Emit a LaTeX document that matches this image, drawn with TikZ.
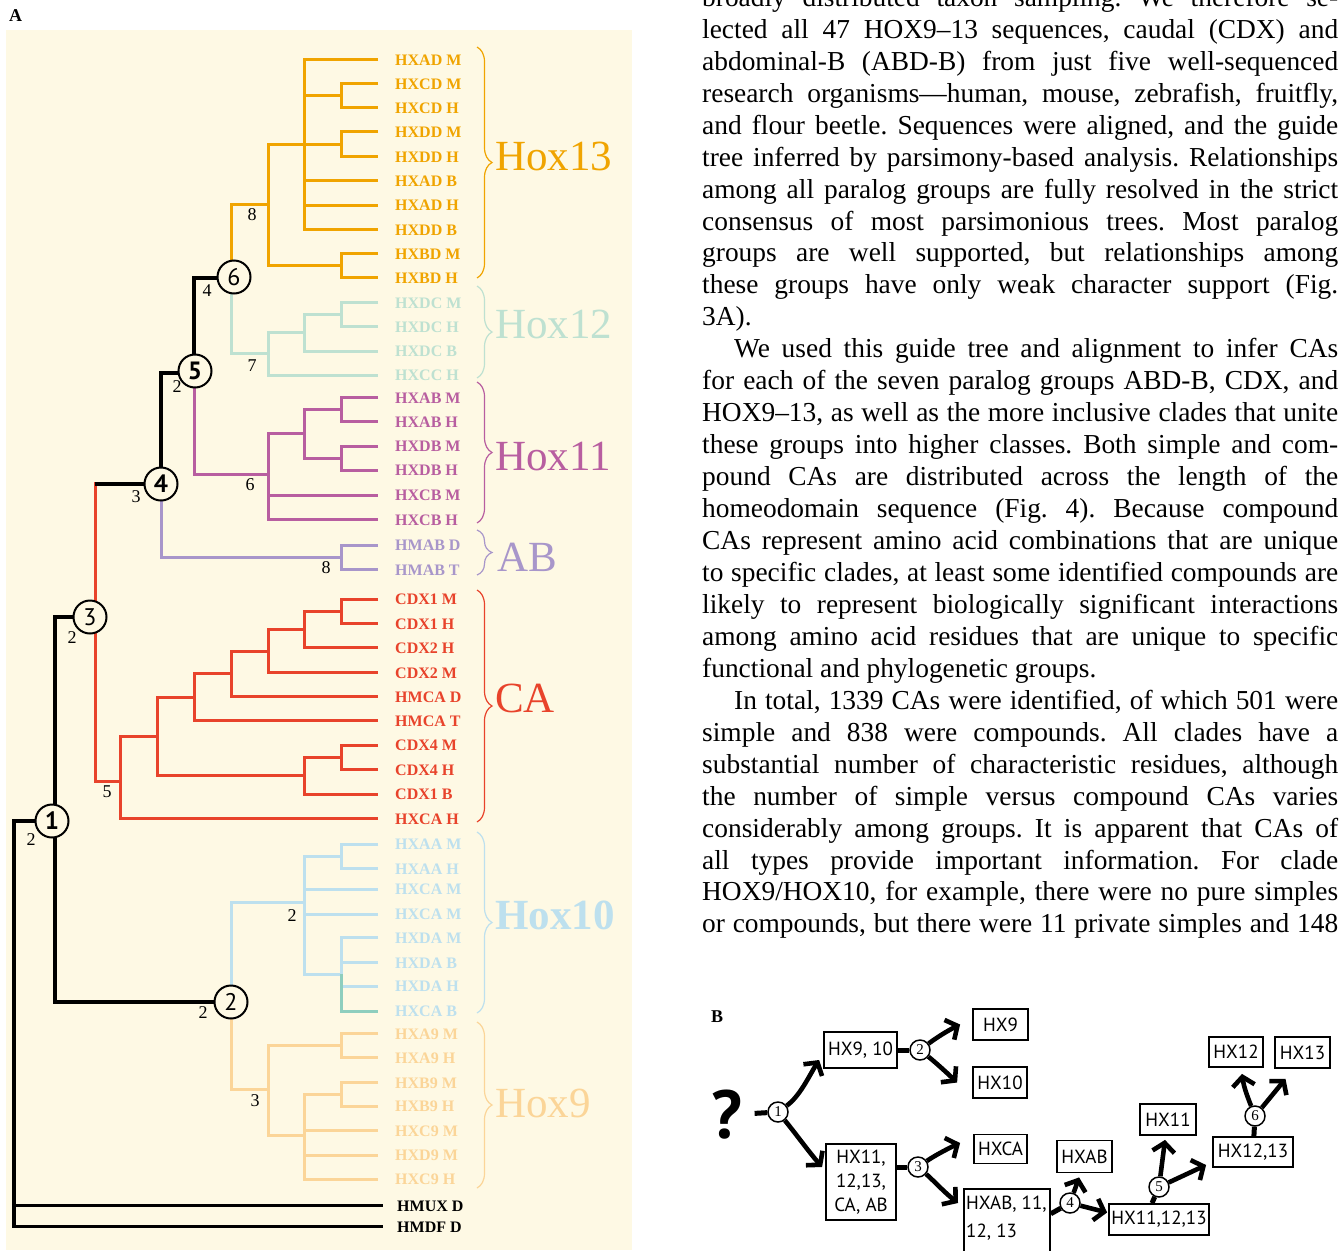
\documentclass[tikz,border=0pt]{standalone}
\usepackage{fontspec}
\setmainfont{Liberation Serif}
\newfontfamily\sansf{PT Sans}
\usetikzlibrary{arrows.meta,decorations.pathreplacing,calc}
\definecolor{bgc}{HTML}{FEF9E4}
\definecolor{cXIII}{HTML}{F0A400}
\definecolor{cXII}{HTML}{BEE1D1}
\definecolor{cXI}{HTML}{B85EA0}
\definecolor{cAB}{HTML}{A896CA}
\definecolor{cCA}{HTML}{E8432B}
\definecolor{cX}{HTML}{BDE0EE}
\definecolor{cXg}{HTML}{8ECEBE}
\definecolor{cIX}{HTML}{FBD598}
\pgfdeclarelayer{back}
\pgfdeclarelayer{lines}
\pgfsetlayers{back,lines,main}
\frenchspacing
\newcommand\jline[3]{\node[jl] (#1) at (702,{38.3+31.95*(#2-1)}) {\makebox[636pt][s]{#3}};}
\begin{document}
\begin{tikzpicture}[x=1pt,y=-1pt,
  br/.style={line width=3pt},
  blk/.style={line width=3.4pt, black},
  lf/.style={anchor=base west, inner sep=0pt, font=\fontsize{16}{16}\selectfont\bfseries},
  grp/.style={anchor=base west, inner sep=0pt, font=\fontsize{43}{43}\selectfont},
  supn/.style={inner sep=0pt, font=\fontsize{18}{18}\selectfont},
  cn/.style={circle, draw=black, line width=2pt, fill=bgc, minimum size=33pt, inner sep=0pt, font=\sansf\fontsize{24}{24}\selectfont},
  cnb/.style={cn, font=\sansf\bfseries\fontsize{25}{25}\selectfont},
  brc/.style={line width=1.2pt, decorate, decoration={brace, amplitude=15pt}},
  jl/.style={anchor=base west, inner sep=0pt, font=\fontsize{27.4}{27.4}\selectfont},
  bx/.style={draw=black, line width=1.8pt, fill=white, inner sep=0pt, font=\sansf\fontsize{19}{24}\selectfont},
  bc/.style={circle, draw=black, line width=1.5pt, fill=white, minimum size=20pt, inner sep=0pt, font=\fontsize{15}{15}\selectfont},
  barr/.style={line width=4.6pt, -{Straight Barb[length=9pt,width=22pt]}},
  stub/.style={line width=5pt}
]
\clip (0,0) rectangle (1343,1250);
\begin{pgfonlayer}{back}
\fill[white] (0,0) rectangle (1343,1250);
\fill[bgc] (6,30) rectangle (632,1250);
\end{pgfonlayer}
\node[anchor=base west, inner sep=0pt, font=\fontsize{18}{18}\selectfont\bfseries] (lblA) at (9,21) {A};

% ---- circles of panel A
\node[cnb] (c1) at (52,821) {1};
\node[cn]  (c2) at (231,1002) {2};
\node[cn]  (c3) at (90,617) {3};
\node[cnb] (c4) at (161,484) {4};
\node[cnb] (c5) at (195,371) {5};
\node[cn]  (c6) at (234,277) {6};

\begin{pgfonlayer}{lines}
% Hox13
\begin{scope}[br, cXIII]
\draw (378,83.3) -- (341,83.3) -- (341,107.7) -- (378,107.7);
\draw (378,131.7) -- (341,131.7) -- (341,156.7) -- (378,156.7);
\draw (378,253.3) -- (341,253.3) -- (341,277.7) -- (378,277.7);
\draw (378,59.3) -- (304,59.3) -- (304,229.3) -- (378,229.3);
\draw (304,95.5) -- (341,95.5);
\draw (304,180.7) -- (378,180.7);
\draw (304,205) -- (378,205);
\draw (341,265.5) -- (268,265.5) -- (268,144.2) -- (341,144.2);
\draw (231,277) -- (231,204) -- (268,204);
\end{scope}
% Hox12
\begin{scope}[br, cXII]
\draw (378,302.7) -- (341,302.7) -- (341,326.7) -- (378,326.7);
\draw (341,314.7) -- (304,314.7) -- (304,351) -- (378,351);
\draw (304,332.8) -- (268,332.8) -- (268,375) -- (378,375);
\draw (231,277) -- (231,353.9) -- (268,353.9);
\end{scope}
% Hox11
\begin{scope}[br, cXI]
\draw (378,397.3) -- (341,397.3) -- (341,421.7) -- (378,421.7);
\draw (378,446) -- (341,446) -- (341,470) -- (378,470);
\draw (341,409.5) -- (304,409.5) -- (304,458) -- (341,458);
\draw (304,433.8) -- (268,433.8) -- (268,519.3) -- (378,519.3);
\draw (268,495) -- (378,495);
\draw (194,371) -- (194,474) -- (268,474);
\end{scope}
% AB
\begin{scope}[br, cAB]
\draw (378,545) -- (341,545) -- (341,569.3) -- (378,569.3);
\draw (161,484) -- (161,557) -- (341,557);
\end{scope}
% CA
\begin{scope}[br, cCA]
\draw (95,482) -- (95,781) -- (120,781);
\draw (378,599) -- (341,599) -- (341,623.3) -- (378,623.3);
\draw (341,611) -- (304,611) -- (304,647.7) -- (378,647.7);
\draw (304,629) -- (268,629) -- (268,672.3) -- (378,672.3);
\draw (268,651) -- (231,651) -- (231,696.7) -- (378,696.7);
\draw (231,673) -- (194,673) -- (194,720.7) -- (378,720.7);
\draw (378,745) -- (341,745) -- (341,769.3) -- (378,769.3);
\draw (341,757) -- (304,757) -- (304,794) -- (378,794);
\draw (194,697) -- (157,697) -- (157,775.5) -- (304,775.5);
\draw (157,736) -- (120,736) -- (120,818.3) -- (378,818.3);
\end{scope}
% Hox10
\begin{scope}[br, cX]
\draw (378,844) -- (341,844) -- (341,868.7) -- (378,868.7);
\draw (341,856) -- (304,856) -- (304,974) -- (341,974);
\draw (304,889) -- (378,889);
\draw (304,914) -- (378,914);
\draw (378,937.3) -- (341,937.3) -- (341,974);
\draw (341,962.3) -- (378,962.3);
\draw (341,986) -- (378,986);
\draw (231,1002) -- (231,902) -- (304,902);
\draw[cXg] (341,974) -- (341,1011) -- (378,1011);
\end{scope}
% Hox9
\begin{scope}[br, cIX]
\draw (378,1033.3) -- (341,1033.3) -- (341,1057.3) -- (378,1057.3);
\draw (378,1082.3) -- (341,1082.3) -- (341,1106) -- (378,1106);
\draw (341,1094) -- (304,1094) -- (304,1179) -- (378,1179);
\draw (304,1130.7) -- (378,1130.7);
\draw (304,1155) -- (378,1155);
\draw (341,1045) -- (268,1045) -- (268,1135) -- (304,1135);
\draw (231,1002) -- (231,1089) -- (268,1089);
\end{scope}
% black backbone
\draw[blk] ($(c6.west)+(0,1)$) -| (194,371);
\draw[blk] ($(c5.west)+(0,2)$) -| (c4.north);
\draw[blk] (c4.west) -- (95,484);
\draw[blk] (c3.west) -| (55,805);
\draw[blk] (c1.west) -- (14,821) -- (14,1226.7) -- (383,1226.7);
\draw[blk] (14,1205.7) -- (383,1205.7);
\draw[blk] (55,837) |- (c2.west);
\end{pgfonlayer}

% ---- leaf labels
\foreach \t/\y [count=\i] in {HXAD M/59.3, HXCD M/83.3, HXCD H/107.7, HXDD M/131.7, HXDD H/156.7, HXAD B/180.7, HXAD H/205, HXDD B/229.3, HXBD M/253.3, HXBD H/277.7}
  \node[lf, text=cXIII] (o\i) at (395,\y+5.7) {\t};
\foreach \t/\y [count=\i] in {HXDC M/302.7, HXDC H/326.7, HXDC B/351, HXCC H/375}
  \node[lf, text=cXII] (t\i) at (395,\y+5.7) {\t};
\foreach \t/\y [count=\i] in {HXAB M/397.3, HXAB H/421.7, HXDB M/446, HXDB H/470, HXCB M/495, HXCB H/519.3}
  \node[lf, text=cXI] (m\i) at (395,\y+5.7) {\t};
\foreach \t/\y [count=\i] in {HMAB D/545, HMAB T/569.3}
  \node[lf, text=cAB] (v\i) at (395,\y+5.7) {\t};
\foreach \t/\y [count=\i] in {CDX1 M/599, CDX1 H/623.3, CDX2 H/647.7, CDX2 M/672.3, HMCA D/696.7, HMCA T/720.7, CDX4 M/745, CDX4 H/769.3, CDX1 B/794, HXCA H/818.3}
  \node[lf, text=cCA] (r\i) at (395,\y+5.7) {\t};
\foreach \t/\y [count=\i] in {HXAA M/844, HXAA H/868.7, HXCA M/889, HXCA M/914, HXDA M/937.3, HXDA B/962.3, HXDA H/986, HXCA B/1011}
  \node[lf, text=cX] (b\i) at (395,\y+5.7) {\t};
\foreach \t/\y [count=\i] in {HXA9 M/1033.3, HXA9 H/1057.3, HXB9 M/1082.3, HXB9 H/1106, HXC9 M/1130.7, HXD9 M/1155, HXC9 H/1179}
  \node[lf, text=cIX] (p\i) at (395,\y+5.7) {\t};
\node[lf] (hmux) at (397,1211.4) {HMUX D};
\node[lf] (hmdf) at (397,1232.4) {HMDF D};

% ---- braces and group labels
\draw[brc, cXIII] (477,47) -- (477,278);
\draw[brc, cXII] (477,286) -- (477,378);
\draw[brc, cXI] (477,382) -- (477,523);
\draw[brc, cAB] (477,530) -- (477,575);
\draw[brc, cCA] (477,590) -- (477,822);
\draw[brc, cX] (477,832) -- (477,1013);
\draw[brc, cIX] (477,1022) -- (477,1188);
\node[grp, text=cXIII] (g13) at (495,170) {Hox13};
\node[grp, text=cXII] (g12) at (495,338) {Hox12};
\node[grp, text=cXI] (g11) at (495,470) {Hox11};
\node[grp, text=cAB] (gab) at (497,571) {AB};
\node[grp, text=cCA] (gca) at (495,712) {CA};
\node[grp, text=cX, font=\fontsize{43}{43}\selectfont\bfseries] (g10) at (495,929) {Hox10};
\node[grp, text=cIX] (g9) at (495,1117) {Hox9};

% ---- support values
\node[supn] (s1) at (252,215) {8};
\node[supn] (s2) at (207,291) {4};
\node[supn] (s3) at (252,366) {7};
\node[supn] (s4) at (177,387) {2};
\node[supn] (s5) at (250,485) {6};
\node[supn] (s6) at (136,497) {3};
\node[supn] (s7) at (326,568) {8};
\node[supn] (s8) at (72,638) {2};
\node[supn] (s9) at (107,792) {5};
\node[supn] (s10) at (31,840) {2};
\node[supn] (s11) at (292,916) {2};
\node[supn] (s12) at (203,1013) {2};
\node[supn] (s13) at (255,1101) {3};

% ---- body text
\jline{L0}{0}{broadly distributed taxon sampling. We therefore se-}
\jline{L1}{1}{lected all 47 HOX9--13 sequences, caudal (CDX) and}
\jline{L2}{2}{abdominal-B (ABD-B) from just five well-sequenced}
\jline{L3}{3}{research organisms---human, mouse, zebrafish, fruitfly,}
\jline{L4}{4}{and flour beetle. Sequences were aligned, and the guide}
\jline{L5}{5}{tree inferred by parsimony-based analysis. Relationships}
\jline{L6}{6}{among all paralog groups are fully resolved in the strict}
\jline{L7}{7}{consensus of most parsimonious trees. Most paralog}
\jline{L8}{8}{groups are well supported, but relationships among}
\jline{L9}{9}{these groups have only weak character support (Fig.}
\node[jl] (L10) at (702,{38.3+31.95*9}) {3A).};
\node[jl] (L11) at (734,{38.3+31.95*10}) {\makebox[604pt][s]{We used this guide tree and alignment to infer CAs}};
\jline{L12}{12}{for each of the seven paralog groups ABD-B, CDX, and}
\jline{L13}{13}{HOX9--13, as well as the more inclusive clades that unite}
\jline{L14}{14}{these groups into higher classes. Both simple and com-}
\jline{L15}{15}{pound CAs are distributed across the length of the}
\jline{L16}{16}{homeodomain sequence (Fig. 4). Because compound}
\jline{L17}{17}{CAs represent amino acid combinations that are unique}
\jline{L18}{18}{to specific clades, at least some identified compounds are}
\jline{L19}{19}{likely to represent biologically significant interactions}
\jline{L20}{20}{among amino acid residues that are unique to specific}
\node[jl] (L21) at (702,{38.3+31.95*20}) {functional and phylogenetic groups.};
\node[jl] (L22) at (734,{38.3+31.95*21}) {\makebox[604pt][s]{In total, 1339 CAs were identified, of which 501 were}};
\jline{L23}{23}{simple and 838 were compounds. All clades have a}
\jline{L24}{24}{substantial number of characteristic residues, although}
\jline{L25}{25}{the number of simple versus compound CAs varies}
\jline{L26}{26}{considerably among groups. It is apparent that CAs of}
\jline{L27}{27}{all types provide important information. For clade}
\jline{L28}{28}{HOX9/HOX10, for example, there were no pure simples}
\jline{L29}{29}{or compounds, but there were 11 private simples and 148}

% ---- panel B
\node[anchor=base west, inner sep=0pt, font=\fontsize{18}{18}\selectfont\bfseries] (lblB) at (711,1022) {B};
\node[inner sep=0pt, font=\sansf\bfseries\fontsize{68}{68}\selectfont] (qm) at (727,1115) {?};
\node[bx, minimum width=73pt, minimum height=36pt] (b910) at (860.5,1050) {HX9, 10};
\node[bx, minimum width=55pt, minimum height=31pt] (b9) at (1000.5,1024.5) {HX9};
\node[bx, minimum width=54pt, minimum height=31pt] (b10) at (1000,1082.5) {HX10};
\node[bx, minimum width=70pt, minimum height=76pt, align=center] (bbig) at (861,1182) {HX11,\\12,13,\\CA, AB};
\node[bx, minimum width=53pt, minimum height=29pt] (bca) at (1000.5,1149) {HXCA};
\node[bx, minimum width=86pt, minimum height=80pt, anchor=north west] (bab11) at (963,1188) {};
\node[anchor=base west, inner sep=0pt, font=\sansf\fontsize{19}{19}\selectfont] (tab1) at (966,1209) {HXAB, 11,};
\node[anchor=base west, inner sep=0pt, font=\sansf\fontsize{19}{19}\selectfont] (tab2) at (966,1237) {12, 13};
\node[bx, minimum width=55pt, minimum height=32pt] (bxab) at (1084.5,1156.5) {HXAB};
\node[bx, minimum width=100pt, minimum height=31pt] (b111213) at (1159,1219.5) {HX11,12,13};
\node[bx, minimum width=56pt, minimum height=31pt] (bx11) at (1168,1119.5) {HX11};
\node[bx, minimum width=80pt, minimum height=30pt] (b1213) at (1253,1152) {HX12,13};
\node[bx, minimum width=54pt, minimum height=30pt] (bx12) at (1236,1052) {HX12};
\node[bx, minimum width=55pt, minimum height=31pt] (bx13) at (1302.5,1052.5) {HX13};

\node[bc] (k1) at (778,1112) {1};
\node[bc] (k2) at (920,1050) {2};
\node[bc] (k3) at (918,1167) {3};
\node[bc] (k4) at (1070,1203) {4};
\node[bc] (k5) at (1159,1187) {5};
\node[bc] (k6) at (1255,1116) {6};

\begin{pgfonlayer}{lines}
\draw[stub, shorten <=12pt] (qm) -- (k1);
\draw[stub] (b910) -- (k2);
\draw[stub] (bbig.east |- k3) -- (k3);
\draw[stub] (bab11.east |- k4.south) -- (k4);
\draw[stub] (k5) -- ($(b111213.north)+(-7,0)$);
\draw[stub] (k6) -- (b1213);
\draw[barr] (k1) .. controls (800,1096) and (809,1076) .. ($(b910.west)+(-4,10)$);
\draw[barr] (k1) .. controls (796,1134) and (809,1152) .. ($(bbig.west)+(-3,-15)$);
\draw[barr] (k2) .. controls (936,1038) and (947,1031) .. ($(b9.west)+(-12,0)$);
\draw[barr] (k2) .. controls (935,1062) and (945,1071) .. ($(b10.west)+(-15,0)$);
\draw[barr] (k3) .. controls (934,1156) and (947,1149) .. ($(bca.west)+(-13,-6)$);
\draw[barr] (k3) .. controls (933,1180) and (944,1192) .. ($(bab11.north west)+(-5,15)$);
\draw[barr] (k4) -- ($(bxab.south west)+(23,4)$);
\draw[barr] (k4) -- ($(b111213.west)+(-1,-7)$);
\draw[barr] (k5) -- ($(bx11.south)+(-3,4)$);
\draw[barr] (k5) -- ($(b1213.west)+(-6,13)$);
\draw[barr] (k6) .. controls (1248,1098) and (1244,1088) .. ($(bx12.south)+(6,6)$);
\draw[barr] (k6) -- ($(bx13.south)+(-17,10)$);
\end{pgfonlayer}
\end{tikzpicture}
\end{document}
